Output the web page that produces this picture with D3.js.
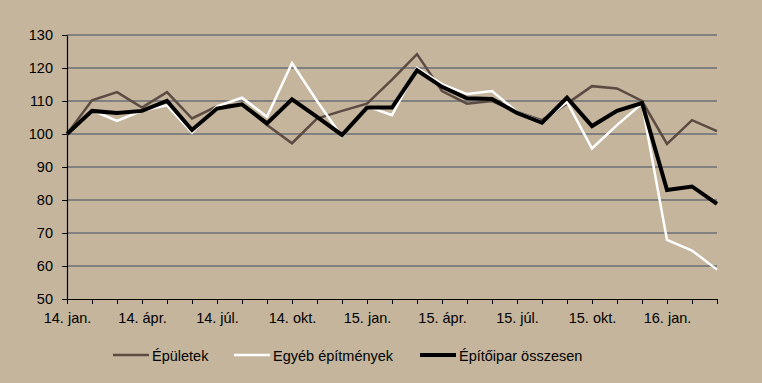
<!DOCTYPE html>
<html lang="hu">
<head>
    <meta charset="utf-8">
    <title>Építőipar</title>
    <script src="https://d3js.org/d3.v7.min.js" charset="utf-8"></script>
    <style type="text/css">
        body { margin: 0; background: #c4b59c; }
        svg { display: block; font-family: Arial, 'Liberation Sans', sans-serif; }
        .grid line { stroke: #808080; stroke-width: 2; }
        .axis text { font-family: Arial, 'Liberation Sans', sans-serif; font-size: 14.5px; fill: #000; }
        .legend text { font-size: 14.5px; fill: #000; }
    </style>
</head>
<body>
    <script type="text/javascript">

        // havi adatok 2014. jan - 2016. márc.
        var months = ["14. jan.", "", "", "14. ápr.", "", "", "14. júl.", "", "", "14. okt.", "", "",
            "15. jan.", "", "", "15. ápr.", "", "", "15. júl.", "", "", "15. okt.", "", "",
            "16. jan.", "", ""];
        var epuletek = [100, 110.2, 112.7, 108.0, 112.7, 104.7, 108.4, 109.0, 102.7, 97.2, 104.7, 107.0,
            109.2, 116.5, 124.2, 113.0, 109.2, 110.0, 106.7, 104.2, 109.2, 114.5, 113.8, 110.0,
            97.0, 104.2, 100.9];
        var egyeb = [100, 107.2, 104.0, 107.0, 108.7, 100.4, 108.4, 111.0, 105.2, 121.5, 110.0, 99.2,
            108.4, 105.7, 120.0, 115.1, 112.1, 113.0, 106.7, 103.7, 109.7, 95.6, 102.7, 109.2,
            67.9, 64.7, 58.9];
        var osszesen = [100, 107.0, 106.4, 107.0, 110.0, 101.2, 107.7, 109.0, 103.2, 110.5, 105.2, 99.7,
            108.0, 108.0, 119.3, 114.3, 110.8, 110.6, 106.4, 103.4, 111.0, 102.4, 107.0, 109.4,
            83.0, 84.1, 78.8];
        var yTicks = [50, 60, 70, 80, 90, 100, 110, 120, 130];

        var series = [
            { name: "Épületek", values: epuletek, color: "#5b4b43", width: 2.5 },
            { name: "Egyéb építmények", values: egyeb, color: "#ffffff", width: 2.5 },
            { name: "Építőipar összesen", values: osszesen, color: "#000000", width: 4 }
        ];

        var W = 762, H = 383;
        var margin = { top: 35, right: 45, bottom: 84, left: 67 },
            width = W - margin.left - margin.right,
            height = H - margin.top - margin.bottom;

        var svg = d3.select("body").append("svg")
            .attr("width", W)
            .attr("height", H)
            .append("g")
            .attr("transform", "translate(" + margin.left + "," + margin.top + ")");

        var x = d3.scaleLinear()
            .domain([0, months.length - 1])
            .range([0, width]);
        var y = d3.scaleLinear()
            .domain([50, 130])
            .range([height, 0]);

        // gridlines
        svg.append("g")
            .attr("class", "grid")
            .selectAll("line")
            .data(yTicks.filter(function (d) { return d > 50; }))
            .enter()
            .append("line")
            .attr("x1", 0)
            .attr("x2", width)
            .attr("y1", function (d) { return y(d); })
            .attr("y2", function (d) { return y(d); });

        // y axis
        var yAxis = svg.append("g")
            .attr("class", "axis")
            .call(d3.axisLeft(y).tickValues(yTicks).tickSize(5).tickSizeOuter(0).tickPadding(9));
        yAxis.attr("font-family", null).attr("font-size", null);
        yAxis.select(".domain").attr("stroke", "#000").attr("stroke-width", 1.2);

        // x axis
        var xAxis = svg.append("g")
            .attr("class", "axis")
            .attr("transform", "translate(0," + height + ")")
            .call(d3.axisBottom(x)
                .tickValues(d3.range(months.length))
                .tickFormat(function (i) { return months[i]; })
                .tickSize(5)
                .tickSizeOuter(0)
                .tickPadding(9));
        xAxis.attr("font-family", null).attr("font-size", null);
        xAxis.select(".domain").attr("stroke", "#000").attr("stroke-width", 1.2);

        var line = d3.line()
            .x(function (d, i) { return x(i); })
            .y(function (d) { return y(d); });

        svg.selectAll(".series")
            .data(series)
            .enter()
            .append("path")
            .attr("class", "series")
            .attr("fill", "none")
            .attr("stroke", function (d) { return d.color; })
            .attr("stroke-width", function (d) { return d.width; })
            .attr("stroke-linejoin", "miter")
            .attr("d", function (d) { return line(d.values); });

        // legend
        var legendX = [113, 234, 420];
        var legend = svg.append("g")
            .attr("class", "legend")
            .attr("transform", "translate(" + (-margin.left) + "," + (-margin.top) + ")");
        var item = legend.selectAll("g")
            .data(series)
            .enter()
            .append("g")
            .attr("transform", function (d, i) { return "translate(" + legendX[i] + ",355)"; });
        item.append("line")
            .attr("x1", 0).attr("x2", 36)
            .attr("y1", 0).attr("y2", 0)
            .attr("stroke", function (d) { return d.color; })
            .attr("stroke-width", function (d) { return d.width; });
        item.append("text")
            .attr("x", 39)
            .attr("y", 6)
            .text(function (d) { return d.name; });

    </script>
</body>
</html>
